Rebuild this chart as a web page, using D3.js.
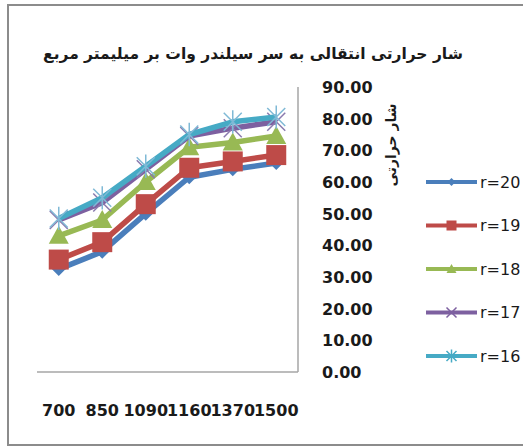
<!DOCTYPE html>
<html>
<head>
<meta charset="utf-8">
<script src="https://cdn.jsdelivr.net/npm/d3@7/dist/d3.min.js"></script>
<style>
  html, body { margin: 0; padding: 0; background: #fff; }
  svg { display: block; }
  text { font-family: "DejaVu Sans", sans-serif; fill: #1a1a1a; }
</style>
</head>
<body>
<svg id="chart" width="523" height="448"></svg>
<script>
// Heat flux data per cylinder radius
const categories = ["700", "850", "1090", "1160", "1370", "1500"];
const r20 = [32.5, 38, 50, 61.5, 64, 66];
const r19 = [35.5, 41, 53, 64.5, 66.5, 68.5];
const r18 = [43, 48, 60, 71, 72.5, 74.5];
const r17 = [48, 53.5, 64, 74.5, 77, 79];
const r16 = [48.5, 55, 65, 75, 79, 80.5];
const seriesNames = ["r=20", "r=19", "r=18", "r=17", "r=16"];
const yTicks = [0, 10, 20, 30, 40, 50, 60, 70, 80, 90];
const titleText = "شار حرارتی انتقالی به سر سیلندر وات بر میلیمتر مربع";
const yTitleText = "شار حرارتی";

const series = [
  { name: seriesNames[0], values: r20, color: "#4a7ebb", marker: "diamond" },
  { name: seriesNames[1], values: r19, color: "#be4b48", marker: "square" },
  { name: seriesNames[2], values: r18, color: "#98b954", marker: "triangle" },
  { name: seriesNames[3], values: r17, color: "#7d60a0", marker: "x" },
  { name: seriesNames[4], values: r16, color: "#46aac5", marker: "star" }
];

const svg = d3.select("#chart");

// outer chart frame
svg.append("rect")
  .attr("x", 8).attr("y", 5).attr("width", 620).attr("height", 440)
  .attr("fill", "none").attr("stroke", "#8c8c8c").attr("stroke-width", 2);

const plot = { left: 37, right: 298, top: 87, bottom: 372 };

const x = d3.scaleBand().domain(categories).range([plot.left, plot.right]);
const y = d3.scaleLinear().domain([0, 90]).range([plot.bottom, plot.top]);

// bottom and right axis lines
svg.append("line")
  .attr("x1", plot.left).attr("x2", plot.right)
  .attr("y1", plot.bottom).attr("y2", plot.bottom)
  .attr("stroke", "#a6a6a6").attr("stroke-width", 1.5);
svg.append("line")
  .attr("x1", plot.right).attr("x2", plot.right)
  .attr("y1", plot.top).attr("y2", plot.bottom)
  .attr("stroke", "#a6a6a6").attr("stroke-width", 1.5);

// right value axis labels
const yAxis = d3.axisRight(y).tickValues(yTicks).tickFormat(d3.format(".2f")).tickSize(0).tickPadding(0);
const yg = svg.append("g").attr("transform", `translate(322,0)`).call(yAxis);
yg.select(".domain").remove();
yg.selectAll("text").attr("font-size", 16).attr("font-weight", "bold")
  .attr("font-family", "DejaVu Sans").attr("fill", "#1a1a1a").attr("dy", "0.35em");

// category labels
const xAxis = d3.axisBottom(x).tickSize(0).tickPadding(0);
const xg = svg.append("g").attr("transform", `translate(0,404)`).call(xAxis);
xg.select(".domain").remove();
xg.selectAll("text").attr("font-size", 16).attr("font-weight", "bold")
  .attr("font-family", "DejaVu Sans").attr("fill", "#1a1a1a").attr("dy", "0.75em");

// marker shapes
function drawMarker(g, type, color, s) {
  if (type === "diamond") {
    g.append("path").attr("d", `M0,${-s}L${s},0L0,${s}L${-s},0Z`).attr("fill", color);
  } else if (type === "square") {
    g.append("rect").attr("x", -s).attr("y", -s).attr("width", 2 * s).attr("height", 2 * s).attr("fill", color);
  } else if (type === "triangle") {
    g.append("path").attr("d", `M0,${-s}L${s},${s * 0.8}L${-s},${s * 0.8}Z`).attr("fill", color);
  } else if (type === "x") {
    g.append("path").attr("d", `M${-s},${-s}L${s},${s}M${-s},${s}L${s},${-s}`)
      .attr("stroke", color).attr("stroke-width", 1.5).attr("fill", "none");
  } else if (type === "star") {
    g.append("path").attr("d", `M${-s},${-s}L${s},${s}M${-s},${s}L${s},${-s}M0,${-s * 1.3}L0,${s * 1.3}`)
      .attr("stroke", color).attr("stroke-width", 1.5).attr("fill", "none");
  }
}

const chartSizes = { diamond: 7, square: 10, triangle: 10, x: 9, star: 9 };
const legendSizes = { diamond: 4, square: 5, triangle: 5, x: 5, star: 5 };

const line = d3.line()
  .x((d, i) => x(categories[i]) + x.bandwidth() / 2)
  .y(d => y(d));

series.forEach(s => {
  const g = svg.append("g");
  g.append("path")
    .attr("d", line(s.values))
    .attr("fill", "none")
    .attr("stroke", s.color)
    .attr("stroke-width", 5.5)
    .attr("stroke-linejoin", "round");
  s.values.forEach((v, i) => {
    const mg = g.append("g")
      .attr("transform", `translate(${x(categories[i]) + x.bandwidth() / 2},${y(v)})`);
    drawMarker(mg, s.marker, s.marker === "x" ? "#8a7aae" : (s.marker === "star" ? "#7fb9d6" : s.color), chartSizes[s.marker]);
  });
});

// legend
const legendY = d3.scalePoint().domain(seriesNames).range([182, 356]);
series.forEach(s => {
  const ly = legendY(s.name);
  const g = svg.append("g");
  g.append("line").attr("x1", 426).attr("x2", 477).attr("y1", ly).attr("y2", ly)
    .attr("stroke", s.color).attr("stroke-width", 4);
  const mg = g.append("g").attr("transform", `translate(451.5,${ly})`);
  drawMarker(mg, s.marker, s.color, legendSizes[s.marker]);
  g.append("text").attr("x", 480).attr("y", ly).attr("dy", "0.35em")
    .attr("font-size", 16).text(s.name);
});

// chart title
svg.append("text")
  .attr("x", 253).attr("y", 59)
  .attr("text-anchor", "middle")
  .attr("direction", "rtl")
  .attr("font-size", 15.5)
  .attr("font-weight", "bold")
  .text(titleText);

// value axis title
svg.append("text")
  .attr("transform", "translate(391,145) rotate(-90)")
  .attr("text-anchor", "middle")
  .attr("dy", "0.35em")
  .attr("direction", "rtl")
  .attr("font-size", 14)
  .attr("font-weight", "bold")
  .text(yTitleText);
</script>
</body>
</html>
